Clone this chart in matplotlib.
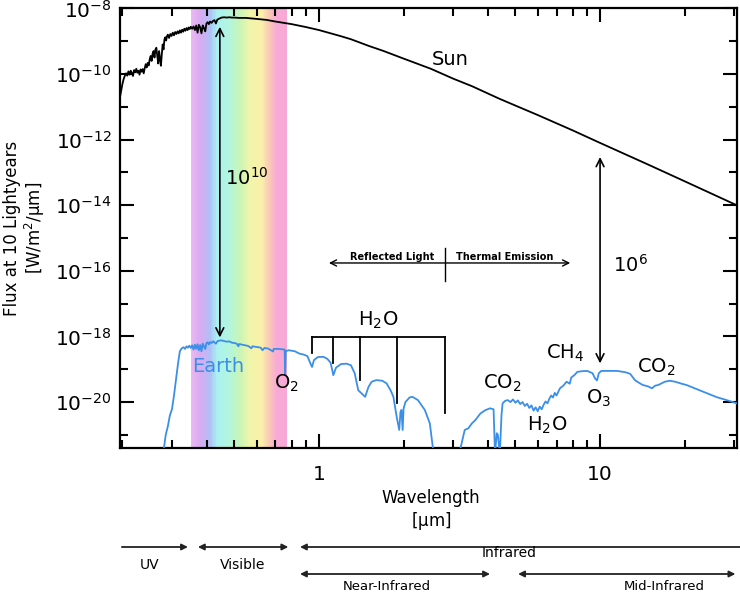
import numpy as np
import matplotlib
matplotlib.use("Agg")
import matplotlib.pyplot as plt
import matplotlib.transforms as mtransforms
from matplotlib.colors import LinearSegmentedColormap

plt.rcParams['font.family'] = ['DejaVu Sans']
plt.rcParams['mathtext.default'] = 'regular'

# Sun spectrum, wavelength [um] and log10 flux [W/m2/um]
sun_wave = [0.196, 0.198, 0.200, 0.202, 0.204, 0.206, 0.208, 0.210, 0.212, 0.214,
            0.216, 0.218, 0.220, 0.222, 0.224, 0.226, 0.228, 0.230, 0.232, 0.234,
            0.236, 0.238, 0.240, 0.242, 0.244, 0.246, 0.248, 0.250, 0.252, 0.254,
            0.256, 0.258, 0.260, 0.262, 0.264, 0.266, 0.268, 0.270, 0.272, 0.274,
            0.276, 0.278, 0.280, 0.282, 0.284, 0.286, 0.288, 0.290, 0.293, 0.296,
            0.299, 0.302, 0.305, 0.308, 0.311, 0.314, 0.317, 0.320, 0.323, 0.326,
            0.329, 0.332, 0.335, 0.338, 0.341, 0.344, 0.347, 0.350, 0.354, 0.358,
            0.362, 0.366, 0.370, 0.374, 0.378, 0.382, 0.386, 0.390, 0.394, 0.398,
            0.402, 0.406, 0.410, 0.415, 0.420, 0.425, 0.430, 0.435, 0.440, 0.445,
            0.450, 0.46, 0.47, 0.48, 0.49, 0.50, 0.52, 0.55, 0.6, 0.65, 0.7, 0.8,
            0.9, 1.0, 1.2, 1.3, 1.5, 1.7, 2.0, 2.5, 3.0, 3.5, 4.4, 6, 8, 10, 15, 20, 31]
sun_logflux = [-10.70, -10.50, -10.30, -10.15, -10.05, -9.98, -10.05, -9.92, -10.02, -9.90,
               -9.97, -10.06, -9.88, -9.95, -9.84, -9.96, -9.90, -10.02, -9.86, -9.93,
               -9.85, -9.98, -9.82, -9.70, -9.80, -9.66, -9.74, -9.55, -9.45, -9.60,
               -9.38, -9.30, -9.50, -9.25, -9.20, -9.45, -9.68, -9.30, -9.55, -9.75,
               -9.40, -9.10, -9.25, -8.95, -8.88, -8.98, -8.85, -8.80, -8.90, -8.78,
               -8.84, -8.74, -8.82, -8.72, -8.78, -8.70, -8.76, -8.67, -8.74, -8.65,
               -8.71, -8.62, -8.68, -8.60, -8.66, -8.58, -8.63, -8.56, -8.62, -8.55,
               -8.66, -8.52, -8.74, -8.50, -8.58, -8.76, -8.52, -8.60, -8.70, -8.46,
               -8.42, -8.48, -8.40, -8.44, -8.38, -8.36, -8.46, -8.34, -8.32, -8.30,
               -8.28, -8.27, -8.28, -8.27, -8.28, -8.28, -8.29, -8.29, -8.32, -8.35, -8.40, -8.48,
               -8.57, -8.66, -8.85, -8.94, -9.14, -9.30, -9.53, -9.84, -10.14, -10.37, -10.76,
               -11.25, -11.72, -12.10, -12.78, -13.27, -14.02]

# Earth spectrum, wavelength [um] and log10 flux
earth_wave = [0.279, 0.285, 0.290, 0.295, 0.300, 0.305, 0.310, 0.315, 0.320, 0.325,
              0.330, 0.334, 0.338, 0.342, 0.346, 0.350, 0.354, 0.358, 0.362, 0.366,
              0.370, 0.374, 0.378, 0.382, 0.386, 0.390, 0.394, 0.398, 0.402, 0.406,
              0.410, 0.415, 0.420, 0.425, 0.430, 0.435, 0.440, 0.450, 0.460, 0.470,
              0.480, 0.490, 0.500, 0.510, 0.517, 0.520, 0.540, 0.560, 0.575, 0.580,
              0.600, 0.620, 0.630, 0.640, 0.660, 0.687, 0.690, 0.720, 0.740, 0.755,
              0.758, 0.762, 0.780, 0.820, 0.850, 0.880, 0.910, 0.930, 0.945, 0.960,
              0.990, 1.036, 1.070, 1.100, 1.125, 1.150, 1.200, 1.255, 1.300, 1.340,
              1.380, 1.420, 1.460, 1.500, 1.540, 1.600, 1.680, 1.740, 1.800, 1.840,
              1.890, 1.930, 1.950, 1.965, 1.985, 2.000, 2.030, 2.100, 2.150, 2.250,
              2.380, 2.480, 2.560, 3.150, 3.300, 3.400, 3.500, 3.600, 3.750, 3.900,
              4.060, 4.180, 4.230, 4.290, 4.330, 4.400, 4.460, 4.500, 4.600, 4.700,
              4.8, 4.9, 5.0, 5.1, 5.2, 5.3, 5.4, 5.5, 5.6, 5.7,
              5.8, 5.9, 6.0, 6.1, 6.2, 6.3, 6.4, 6.5, 6.6, 6.7,
              6.8, 6.9, 7.0, 7.2, 7.4, 7.6, 7.8, 7.9, 8.1, 8.3,
              8.6, 9.0, 9.4, 9.6, 9.75, 9.9, 10.1, 11.0, 11.5, 12.3,
              12.8, 13.3, 13.8, 14.2, 14.8, 15.3, 15.7, 16.1, 17.0, 17.7,
              18.5, 19.5, 20.3, 22.0, 23.9, 26.0, 28.2, 30.7]
earth_logflux = [-21.6, -21.0, -20.74, -20.40, -20.22, -19.80, -19.31, -18.85, -18.45, -18.36,
                 -18.33, -18.38, -18.30, -18.34, -18.28, -18.35, -18.27, -18.40, -18.25, -18.38,
                 -18.24, -18.42, -18.26, -18.45, -18.22, -18.30, -18.38, -18.20, -18.18, -18.24,
                 -18.17, -18.20, -18.15, -18.18, -18.22, -18.15, -18.13, -18.12, -18.14, -18.16,
                 -18.15, -18.19, -18.20, -18.22, -18.30, -18.23, -18.26, -18.29, -18.36, -18.30,
                 -18.32, -18.34, -18.42, -18.35, -18.37, -18.46, -18.38, -18.38, -18.39, -18.40,
                 -19.18, -18.45, -18.42, -18.45, -18.52, -18.55, -18.60, -18.80, -18.93, -18.72,
                 -18.63, -18.62, -18.68, -18.80, -19.18, -18.95, -18.84, -18.83, -18.88, -19.12,
                 -19.64, -19.74, -19.84, -19.54, -19.38, -19.33, -19.35, -19.43, -19.65, -19.84,
                 -20.45, -20.85, -20.30, -20.24, -20.85, -20.20, -20.00, -19.86, -19.84, -19.94,
                 -20.24, -20.65, -21.6, -21.6, -20.85, -20.80, -20.65, -20.55, -20.35, -20.25,
                 -20.19, -20.22, -21.6, -20.95, -21.0, -21.6, -20.40, -20.04, -19.96, -19.94,
                 -20.00, -19.92, -20.02, -19.95, -20.06, -20.00, -20.12, -20.05, -20.18, -20.10,
                 -20.26, -20.16, -20.28, -20.14, -20.22, -20.08, -19.98, -20.04, -19.90, -19.80,
                 -19.86, -19.72, -19.80, -19.58, -19.50, -19.38, -19.44, -19.25, -19.18, -19.08,
                 -19.06, -19.05, -19.12, -19.28, -19.34, -19.12, -19.05, -19.05, -19.05, -19.09,
                 -19.14, -19.33, -19.42, -19.48, -19.52, -19.58, -19.50, -19.48, -19.38, -19.35,
                 -19.38, -19.44, -19.48, -19.60, -19.72, -19.85, -19.94, -20.04]

# visible band colours
band_wave = [0.350, 0.377, 0.409, 0.434, 0.482, 0.523, 0.568, 0.627, 0.669, 0.709, 0.769]
band_colors = ['#ebb8f2', '#d9aaf2', '#afc0f6', '#aaf2f0', '#b4f5dc', '#c8f5b6',
               '#f0f5aa', '#faf0aa', '#fac8b6', '#f8aad6', '#f8a8d4']

# H2O bracket: positions of bands and where their lines end
h2o_wave = [0.942, 1.124, 1.40, 1.90, 2.81]
h2o_bottom = [-18.51, -18.82, -19.33, -20.04, -20.33]

fig = plt.figure(figsize=(7.4, 5.94), dpi=100)
ax = fig.add_axes([120 / 740, 1 - 448 / 594, 617 / 740, 439.6 / 594])
ax.set_xscale('log')
ax.set_yscale('log')
ax.set_xlim(0.196, 30.7)
ax.set_ylim(10 ** -21.4, 1e-8)

# rainbow band
lb = np.log10(band_wave)
pos = (lb - lb[0]) / (lb[-1] - lb[0])
cmap = LinearSegmentedColormap.from_list('vis', list(zip(pos, band_colors)))
edges = np.logspace(lb[0], lb[-1], 121)
for i in range(120):
    ax.axvspan(edges[i], edges[i + 1], color=cmap(i / 119), lw=0, zorder=0)

ax.plot(sun_wave, 10 ** np.array(sun_logflux), color='black', lw=1.3, zorder=3)
ax.plot(earth_wave, 10 ** np.array(earth_logflux), color='#3b8fe8', lw=1.3, zorder=3)

# ticks
ax.set_xticks([1, 10])
ax.set_xticklabels(['1', '10'])
ax.set_xticks([0.2, 0.3, 0.4, 0.5, 0.6, 0.7, 0.8, 0.9, 2, 3, 4, 5, 6, 7, 8, 9, 20, 30], minor=True)
ax.set_xticklabels([], minor=True)
ax.set_yticks([10.0 ** k for k in range(-20, -7, 2)])
ax.set_yticklabels(['$10^{%d}$' % k for k in range(-20, -7, 2)])
ax.set_yticks([10.0 ** k for k in range(-21, -8, 2)], minor=True)
ax.set_yticklabels([], minor=True)
ax.tick_params(which='both', direction='in', top=True, right=True, width=1.5, labelsize=14.5)
ax.tick_params(which='major', length=10)
ax.tick_params(which='minor', length=6)
ax.tick_params(axis='x', pad=12)
ax.tick_params(axis='y', pad=6)
for s in ax.spines.values():
    s.set_linewidth(1.6)

ax.set_ylabel('Flux at 10 Lightyears\n[W/m$^2$/$\\mu$m]', fontsize=12, labelpad=6,
              linespacing=1.1)

# text labels in the plot
ax.text(2.93, 10 ** -9.57, 'Sun', fontsize=14, ha='center', va='center')
ax.text(0.437, 10 ** -18.92, 'Earth', fontsize=14, ha='center', va='center', color='#3b8fe8')
ax.text(0.554, 10 ** -13.17, '$10^{10}$', fontsize=14, ha='center', va='center')
ax.text(12.8, 10 ** -15.82, '$10^{6}$', fontsize=14, ha='center', va='center')
ax.text(0.769, 10 ** -19.42, 'O$_2$', fontsize=14, ha='center', va='center')
ax.text(1.62, 10 ** -17.5, 'H$_2$O', fontsize=14, ha='center', va='center')
ax.text(4.48, 10 ** -19.42, 'CO$_2$', fontsize=14, ha='center', va='center')
ax.text(6.5, 10 ** -20.72, 'H$_2$O', fontsize=14, ha='center', va='center')
ax.text(7.5, 10 ** -18.5, 'CH$_4$', fontsize=14, ha='center', va='center')
ax.text(9.85, 10 ** -19.88, 'O$_3$', fontsize=14, ha='center', va='center')
ax.text(15.8, 10 ** -18.94, 'CO$_2$', fontsize=14, ha='center', va='center')

# contrast arrows
arr = dict(arrowstyle='<->', lw=1.2, color='black', shrinkA=0, shrinkB=0, mutation_scale=14)
ax.annotate('', xy=(0.444, 10 ** -8.56), xytext=(0.444, 10 ** -18.03), arrowprops=arr)
ax.annotate('', xy=(10, 10 ** -12.53), xytext=(10, 10 ** -18.82), arrowprops=arr)

# H2O bracket
ax.plot([h2o_wave[0], h2o_wave[-1]], [10 ** -18.01] * 2, color='black', lw=1.3)
for w, b in zip(h2o_wave, h2o_bottom):
    ax.plot([w, w], [10 ** -18.01, 10 ** b], color='black', lw=1.3)

# reflected / thermal
ax.annotate('', xy=(1.085, 10 ** -15.76), xytext=(7.83, 10 ** -15.76),
            arrowprops=dict(arrowstyle='<->', lw=1.0, color='black', shrinkA=0, shrinkB=0,
                            mutation_scale=11))
ax.plot([2.81, 2.81], [10 ** -15.31, 10 ** -16.31], color='black', lw=1.0)
ax.text(1.82, 10 ** -15.58, 'Reflected Light', fontsize=7, fontweight='bold',
        ha='center', va='center')
ax.text(4.59, 10 ** -15.58, 'Thermal Emission', fontsize=7, fontweight='bold',
        ha='center', va='center')

# labels under the axes
trans = mtransforms.blended_transform_factory(ax.transData, ax.transAxes)
def yax(p):
    return (448 - p) / 439.6

ax.text(2.5, yax(498), 'Wavelength', fontsize=12, ha='center', va='center', transform=trans)
ax.text(2.5, yax(521), '[$\\mu$m]', fontsize=12, ha='center', va='center', transform=trans)

def band_arrow(x0, x1, y, style):
    ax.annotate('', xy=(x1, yax(y)), xytext=(x0, yax(y)), xycoords=trans, textcoords=trans,
                annotation_clip=False,
                arrowprops=dict(arrowstyle=style, lw=1.3, color='#222222', shrinkA=0, shrinkB=0,
                                mutation_scale=9))

band_arrow(0.199, 0.342, 547, '-|>')
band_arrow(0.371, 0.778, 547, '<|-|>')
band_arrow(31.5, 0.856, 547, '-|>')
band_arrow(0.856, 4.06, 574, '<|-|>')
band_arrow(5.11, 30.3, 574, '<|-|>')

ax.text(0.25, yax(565), 'UV', fontsize=10, ha='center', va='center', transform=trans)
ax.text(0.537, yax(565), 'Visible', fontsize=10, ha='center', va='center', transform=trans)
ax.text(4.75, yax(553), 'Infrared', fontsize=10, ha='center', va='center', transform=trans)
ax.text(1.75, yax(586), 'Near-Infrared', fontsize=9.5, ha='center', va='center', transform=trans)
ax.text(16.9, yax(586), 'Mid-Infrared', fontsize=9.5, ha='center', va='center', transform=trans)

fig.savefig('out.png', dpi=100)
